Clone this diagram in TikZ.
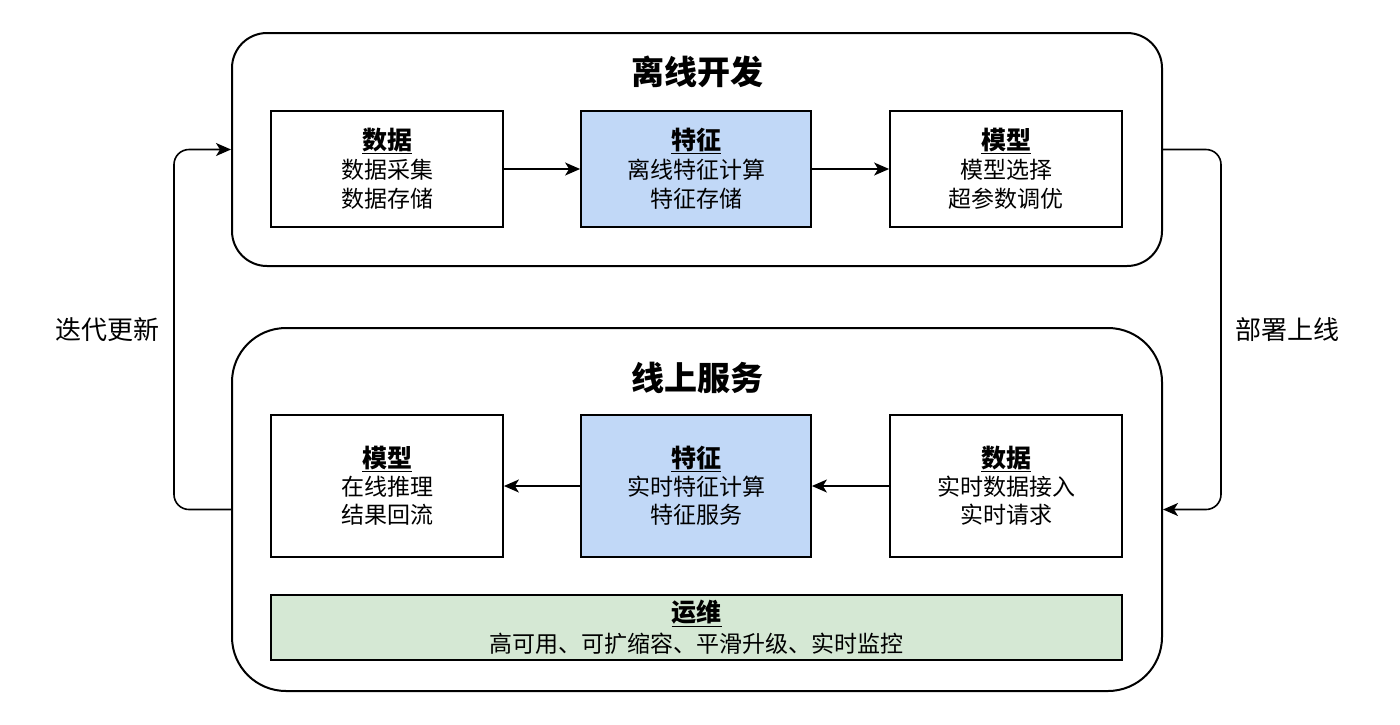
\documentclass[tikz,border=0pt]{standalone}
\usepackage{fontspec}
\setmainfont{Noto Sans CJK SC}
\usetikzlibrary{arrows.meta,positioning}
\definecolor{FeatClr}{RGB}{193,216,247}
\definecolor{OpsClr}{RGB}{213,232,212}
\newcommand{\unittitle}[1]{{\fontsize{25}{29}\selectfont\bfseries\underline{#1}}}

\begin{document}
\begin{tikzpicture}[x=1pt,y=-1pt,
  stage/.style={draw=black,line width=2pt,inner sep=0pt},
  unit/.style={draw=black,line width=1.8pt,fill=white,minimum width=232pt,minimum height=116pt,
    align=center,font=\fontsize{23}{29}\selectfont},
  flow/.style={line width=1.6pt,-{Stealth[length=15pt,width=13pt,inset=4pt]}},
  loop/.style={flow,rounded corners=15pt},
  side/.style={font=\fontsize{26}{30}\selectfont},
  head/.style={font=\fontsize{33}{36}\selectfont\bfseries}]
\useasboundingbox (0,0) rectangle (1400,724);

% containers
\node[stage,rounded corners=35pt,minimum width=930pt,minimum height=233pt] (offline) at (697,149.5) {};
\node[stage,rounded corners=54pt,minimum width=930pt,minimum height=363pt] (online) at (697,509.5) {};
\node[head] (offtitle) at (697,72) {离线开发};
\node[head] (ontitle) at (697,378) {线上服务};

% offline row
\node[unit] (offdata) at (387,169) {\unittitle{数据}\\数据采集\\数据存储};
\node[unit,fill=FeatClr,minimum width=230pt] (offfeat) at (696,169) {\unittitle{特征}\\离线特征计算\\特征存储};
\node[unit] (offmodel) at (1006,169) {\unittitle{模型}\\模型选择\\超参数调优};

% online row
\node[unit,minimum height=142pt,font=\fontsize{23}{28}\selectfont] (onmodel) at (387,486) {\unittitle{模型}\\在线推理\\结果回流};
\node[unit,fill=FeatClr,minimum width=230pt,minimum height=142pt,font=\fontsize{23}{28}\selectfont] (onfeat) at (696,486) {\unittitle{特征}\\实时特征计算\\特征服务};
\node[unit,minimum height=142pt,font=\fontsize{23}{28}\selectfont] (ondata) at (1006,486) {\unittitle{数据}\\实时数据接入\\实时请求};

\node[unit,fill=OpsClr,minimum width=851pt,minimum height=65pt,font=\fontsize{23}{31}\selectfont] (ops) at (696.5,627.5) {\unittitle{运维}\\高可用、可扩缩容、平滑升级、实时监控};

% arrows
\draw[flow] (offdata) -- (offfeat);
\draw[flow] (offfeat) -- (offmodel);
\draw[flow] (ondata) -- (onfeat);
\draw[flow] (onfeat) -- (onmodel);

\draw[loop] (online.west) -- ++(-57,0) |- node[pos=0.25,left=10pt,side,name=iterlbl] {迭代更新} (offline.west);
\draw[loop] (offline.east) -- ++(58,0) |- node[pos=0.25,right=10pt,side,name=deploylbl] {部署上线} (online.east);

\end{tikzpicture}
\end{document}
